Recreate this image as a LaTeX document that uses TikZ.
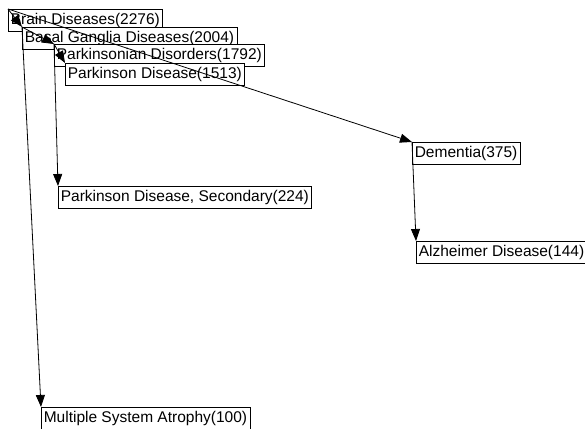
\documentclass[tikz,border=0pt]{standalone}
\usepackage{fontspec}
\setmainfont{Liberation Sans}
\usetikzlibrary{arrows.meta}
\begin{document}
\begin{tikzpicture}[x=1bp,y=-1bp,
  term/.style={draw=black, fill=white, line width=0.8bp, anchor=north west,
    inner xsep=2.8bp, inner ysep=2.8bp, outer sep=0pt,
    text height=13bp, text depth=3.6bp,
    font=\fontsize{15.5bp}{18bp}\selectfont},
  link/.style={draw=black, line width=0.8bp, -{Triangle[length=12bp,width=9bp]}}]
\useasboundingbox (0,0) rectangle (585,428);

% disease terms, placed by their top-left corners
\node[term] (brain)   at (8,9)    {Brain Diseases(2276)};
\node[term] (basal)   at (22,27)  {Basal Ganglia Diseases(2004)};
\node[term] (pdis)    at (54,44)  {Parkinsonian Disorders(1792)};
\node[term] (pd)      at (65,63)  {Parkinson Disease(1513)};
\node[term] (dem)     at (412,142) {Dementia(375)};
\node[term] (alz)     at (416,241) {Alzheimer Disease(144)};
\node[term] (pdsec)   at (58,186) {Parkinson Disease, Secondary(224)};
\node[term] (msa)     at (41,407) {Multiple System Atrophy(100)};

% hierarchy links, corner to corner
\draw[link] (brain.north west) -- (basal.north west);
\draw[link] (basal.north west) -- (pdis.north west);
\draw[link] (pdis.north west)  -- (pd.north west);
\draw[link] (brain.north west) -- (dem.north west);
\draw[link] (dem.north west)   -- (alz.north west);
\draw[link] (pdis.north west)  -- (pdsec.north west);
\draw[link] (basal.north west) -- (msa.north west);
\end{tikzpicture}
\end{document}
